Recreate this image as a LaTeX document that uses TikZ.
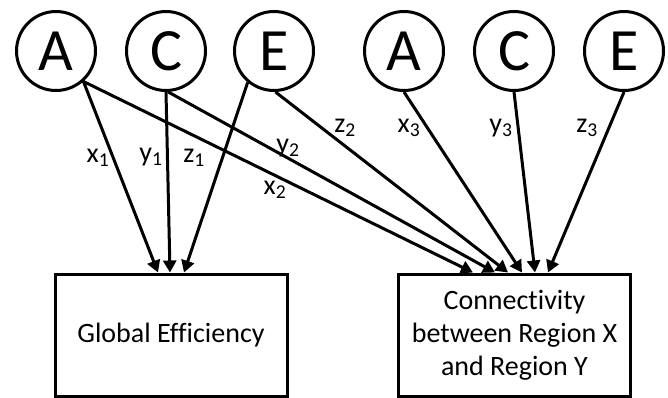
\documentclass[tikz,border=0pt]{standalone}
\usepackage{fontspec}
\setmainfont{Carlito}[Ligatures=NoCommon]
\usetikzlibrary{arrows.meta}

\begin{document}
\begin{tikzpicture}[x=1pt,y=-1pt,
  gene/.style={circle,draw,line width=3pt,minimum size=79pt,inner sep=0pt,
    font=\fontsize{60}{61}\selectfont},
  pheno/.style={rectangle,draw,line width=3pt,minimum width=232pt,
    minimum height=122pt,align=center,font=\fontsize{28}{33}\selectfont},
  effect/.style={line width=3pt,-{Triangle[length=12pt,width=13pt]}},
  coef/.style={inner sep=0pt,font=\fontsize{28}{33}\selectfont}]

\useasboundingbox (0,0) rectangle (668,398);

% Latent factors
\node[gene] (A1) at (56,51) {A};
\node[gene] (C1) at (166,51) {C};
\node[gene] (E1) at (274,51) {E};
\node[gene] (A2) at (404,51) {A};
\node[gene] (C2) at (514,51) {C};
\node[gene] (E2) at (624,51) {E};

% Phenotypes
\node[pheno] (glob) at (171,335) {Global Efficiency};
\node[pheno] (conn) at (514.5,335) {Connectivity\\between Region X\\and Region Y};

% Paths to global efficiency
\draw[effect] (A1.-48) -- ([xshift=-13pt]glob.north);
\draw[effect] (C1.south) -- ([xshift=-1pt]glob.north);
\draw[effect] (E1.-130) -- ([xshift=13pt]glob.north);

% Paths to connectivity
\draw[effect] (A1.-48) -- ([xshift=-41.5pt]conn.north);
\draw[effect] (C1.-87) -- ([xshift=-19.5pt]conn.north);
\draw[effect] (E1.-88) -- ([xshift=-6.5pt]conn.north);
\draw[effect] (A2.south) -- ([xshift=7.5pt]conn.north);
\draw[effect] (C2.south) -- ([xshift=20.5pt]conn.north);
\draw[effect] (E2.south) -- ([xshift=33.5pt]conn.north);

% Path coefficients
\node[coef] (x1) at (98,158) {x\textsubscript{1}};
\node[coef] (y1) at (151,157) {y\textsubscript{1}};
\node[coef] (z1) at (194,158) {z\textsubscript{1}};
\node[coef] (y2) at (288,148) {y\textsubscript{2}};
\node[coef] (x2) at (275,190) {x\textsubscript{2}};
\node[coef] (z2) at (345,128) {z\textsubscript{2}};
\node[coef] (x3) at (409,128) {x\textsubscript{3}};
\node[coef] (y3) at (501,128) {y\textsubscript{3}};
\node[coef] (z3) at (587,128) {z\textsubscript{3}};

\end{tikzpicture}
\end{document}
